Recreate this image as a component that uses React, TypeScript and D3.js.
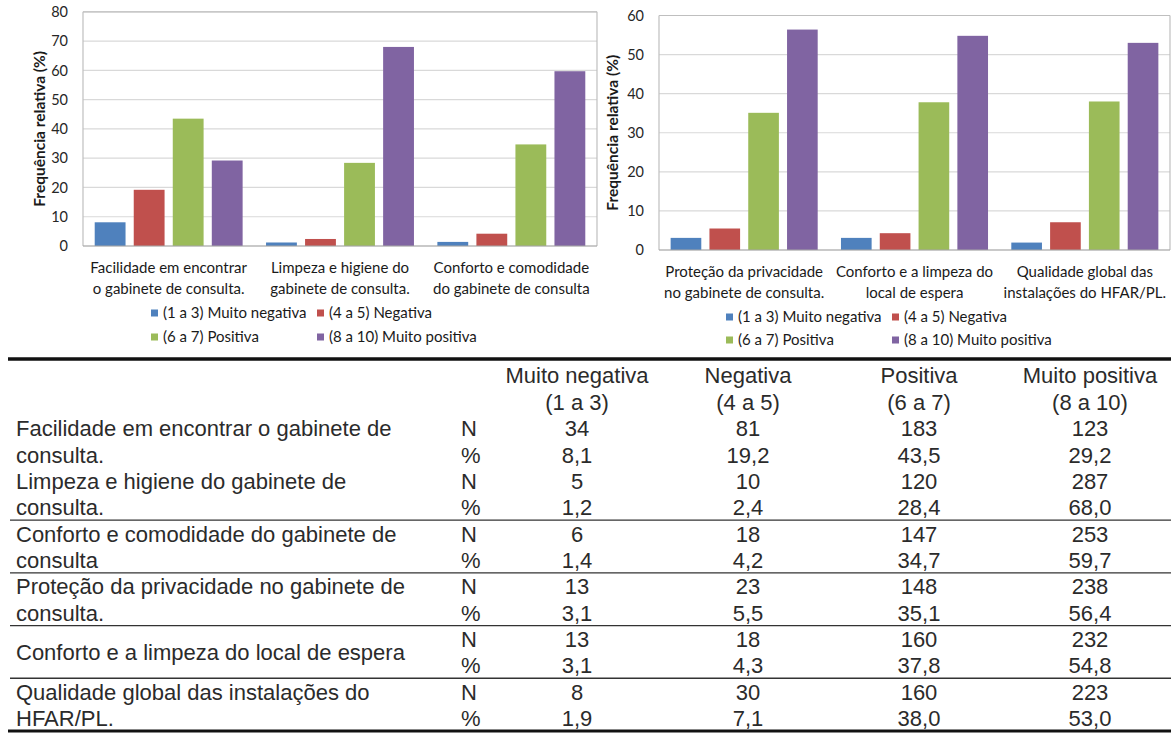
import React from 'react';
import * as d3 from 'd3';

// Rating levels shared by both charts and the table
const series = ['(1 a 3) Muito negativa', '(4 a 5) Negativa', '(6 a 7) Positiva', '(8 a 10) Muito positiva'];
const seriesColors = ['#4F81BD', '#C0504D', '#9BBB59', '#8064A2'];

// Left chart
const leftCategories = [
  ['Facilidade em encontrar', 'o gabinete de consulta.'],
  ['Limpeza e higiene do', 'gabinete de consulta.'],
  ['Conforto e comodidade', 'do gabinete de consulta'],
];
const leftPercent = [
  [8.1, 19.2, 43.5, 29.2],
  [1.2, 2.4, 28.4, 68.0],
  [1.4, 4.2, 34.7, 59.7],
];
const leftTicks = [0, 10, 20, 30, 40, 50, 60, 70, 80];

// Right chart
const rightCategories = [
  ['Proteção da privacidade', 'no gabinete de consulta.'],
  ['Conforto e a limpeza do', 'local de espera'],
  ['Qualidade global das', 'instalações do HFAR/PL.'],
];
const rightPercent = [
  [3.1, 5.5, 35.1, 56.4],
  [3.1, 4.3, 37.8, 54.8],
  [1.9, 7.1, 38.0, 53.0],
];
const rightTicks = [0, 10, 20, 30, 40, 50, 60];

const yTitle = 'Frequência relativa (%)';

// Table
const tableHeaders = [
  ['Muito negativa', '(1 a 3)'],
  ['Negativa', '(4 a 5)'],
  ['Positiva', '(6 a 7)'],
  ['Muito positiva', '(8 a 10)'],
];
const tableItems = [
  ['Facilidade em encontrar o gabinete de', 'consulta.'],
  ['Limpeza e higiene do gabinete de', 'consulta.'],
  ['Conforto e comodidade do gabinete de', 'consulta'],
  ['Proteção da privacidade no gabinete de', 'consulta.'],
  ['Conforto e a limpeza do local de espera'],
  ['Qualidade global das instalações do', 'HFAR/PL.'],
];
const tableN = [
  [34, 81, 183, 123],
  [5, 10, 120, 287],
  [6, 18, 147, 253],
  [13, 23, 148, 238],
  [13, 18, 160, 232],
  [8, 30, 160, 223],
];
const tablePercent = [...leftPercent, ...rightPercent];
const rowKinds = ['N', '%'];

const chartFont = 'Lato, "Open Sans", sans-serif';
const tableFont = '"Liberation Sans", Arial, sans-serif';
const fmtPct = (v: number) => d3.format('.1f')(v).replace('.', ',');

type ChartProps = {
  cats: string[][];
  values: number[][];
  ticks: number[];
  x0: number;
  x1: number;
  yTop: number;
  yBottom: number;
  titleX: number;
  legendX: number[];
  legendY: number[];
};

function BarChart({ cats, values, ticks, x0, x1, yTop, yBottom, titleX, legendX, legendY }: ChartProps) {
  const xOuter = d3.scaleBand<number>().domain(d3.range(cats.length)).range([x0, x1]);
  const xInner = d3
    .scaleBand<number>()
    .domain(d3.range(series.length))
    .range([0, xOuter.bandwidth()])
    .paddingInner(0.21)
    .paddingOuter(0.3);
  const y = d3.scaleLinear().domain([0, d3.max(ticks) as number]).range([yBottom, yTop]);

  return (
    <g>
      {ticks.map((t) => (
        <line key={'g' + t} x1={x0} x2={x1} y1={y(t)} y2={y(t)} stroke="#D9D9D9" strokeWidth={1.2} />
      ))}
      <line x1={x0} x2={x0} y1={yTop} y2={yBottom} stroke="#BFBFBF" strokeWidth={1.2} />
      <line x1={x1} x2={x1} y1={yTop} y2={yBottom} stroke="#BFBFBF" strokeWidth={1.2} />
      <line x1={x0} x2={x1} y1={yTop} y2={yTop} stroke="#BFBFBF" strokeWidth={1.2} />
      {values.map((row, ci) =>
        row.map((v, si) => (
          <rect
            key={ci + '-' + si}
            x={(xOuter(ci) as number) + (xInner(si) as number)}
            y={y(v)}
            width={xInner.bandwidth()}
            height={y(0) - y(v)}
            fill={seriesColors[si]}
          />
        ))
      )}
      <line x1={x0} x2={x1} y1={yBottom} y2={yBottom} stroke="#A6A6A6" strokeWidth={1.2} />
      {ticks.map((t) => (
        <text
          key={'t' + t}
          x={x0 - 15}
          y={y(t)}
          dy="0.36em"
          textAnchor="end"
          fontFamily={chartFont}
          fontSize={14.5}
          fill="#262626"
        >
          {t}
        </text>
      ))}
      <text
        transform={`translate(${titleX},${(yTop + yBottom) / 2}) rotate(-90)`}
        textAnchor="middle"
        dy="0.35em"
        fontFamily={chartFont}
        fontWeight="bold"
        fontSize={15.5}
        fill="#1a1a1a"
      >
        {yTitle}
      </text>
      {cats.map((lines, ci) =>
        lines.map((ln, li) => (
          <text
            key={'c' + ci + li}
            x={(xOuter(ci) as number) + xOuter.bandwidth() / 2}
            y={yBottom + 22 + li * 21}
            dy="0.35em"
            textAnchor="middle"
            fontFamily={chartFont}
            fontSize={15}
            fill="#1a1a1a"
          >
            {ln}
          </text>
        ))
      )}
      {series.map((s, si) => {
        const lx = legendX[si % 2];
        const ly = legendY[Math.floor(si / 2)];
        return (
          <g key={'l' + si}>
            <rect x={lx} y={ly - 3.5} width={7} height={7} fill={seriesColors[si]} />
            <text x={lx + 12} y={ly} dy="0.35em" fontFamily={chartFont} fontSize={15} fill="#1a1a1a">
              {s}
            </text>
          </g>
        );
      })}
    </g>
  );
}

function DataTable() {
  const rowY = d3.scaleLinear().domain([0, 11]).range([428.5, 718.5]);
  const colX = d3.scaleLinear().domain([0, 3]).range([577, 1090]);
  const headerY = [375, 402];
  const textProps = { fontFamily: tableFont, fontSize: 22, fill: '#2b2b2b' };
  return (
    <g>
      <line x1={8} x2={1171} y1={359} y2={359} stroke="#111" strokeWidth={3.5} />
      <line x1={8} x2={1171} y1={731} y2={731} stroke="#111" strokeWidth={3} />
      {tableHeaders.map((h, ci) =>
        h.map((t, li) => (
          <text key={'h' + ci + li} x={colX(ci)} y={headerY[li]} dy="0.35em" textAnchor="middle" {...textProps}>
            {t}
          </text>
        ))
      )}
      {tableItems.map((lines, ii) => {
        const r0 = ii * 2;
        return (
          <g key={'i' + ii}>
            {lines.length === 1 ? (
              <text x={16} y={(rowY(r0) + rowY(r0 + 1)) / 2} dy="0.35em" {...textProps}>
                {lines[0]}
              </text>
            ) : (
              lines.map((ln, li) => (
                <text key={li} x={16} y={rowY(r0 + li)} dy="0.35em" {...textProps}>
                  {ln}
                </text>
              ))
            )}
            {rowKinds.map((k, ki) => (
              <text key={'k' + ki} x={461} y={rowY(r0 + ki)} dy="0.35em" {...textProps}>
                {k}
              </text>
            ))}
            {tableN[ii].map((n, ci) => (
              <text key={'n' + ci} x={colX(ci)} y={rowY(r0)} dy="0.35em" textAnchor="middle" {...textProps}>
                {n}
              </text>
            ))}
            {tablePercent[ii].map((p, ci) => (
              <text key={'p' + ci} x={colX(ci)} y={rowY(r0 + 1)} dy="0.35em" textAnchor="middle" {...textProps}>
                {fmtPct(p)}
              </text>
            ))}
            {ii >= 1 && ii <= 4 && (
              <line x1={10} x2={1171} y1={rowY(r0 + 1) + 12.5} y2={rowY(r0 + 1) + 12.5} stroke="#333" strokeWidth={1.3} />
            )}
          </g>
        );
      })}
    </g>
  );
}

export default function App() {
  return (
    <div style={{ position: 'absolute', left: 0, top: 0 }}>
      <svg width={1171} height={734} style={{ display: 'block', background: '#fff' }}>
        <BarChart
          cats={leftCategories}
          values={leftPercent}
          ticks={leftTicks}
          x0={83}
          x1={597}
          yTop={11.8}
          yBottom={246}
          titleX={40}
          legendX={[151, 317]}
          legendY={[313, 337]}
        />
        <BarChart
          cats={rightCategories}
          values={rightPercent}
          ticks={rightTicks}
          x0={659}
          x1={1170}
          yTop={15.5}
          yBottom={250}
          titleX={613}
          legendX={[726, 892]}
          legendY={[317, 340]}
        />
        <DataTable />
      </svg>
    </div>
  );
}
